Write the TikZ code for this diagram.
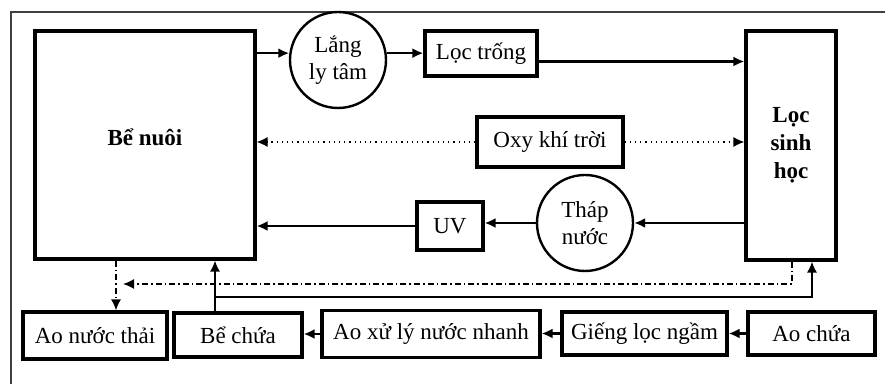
\documentclass[tikz,border=0pt]{standalone}
\usepackage{fontspec}
\setmainfont{Liberation Serif}
\usepackage{tikz}
\usetikzlibrary{positioning,calc,arrows.meta}

\begin{document}
\begin{tikzpicture}[x=0.5pt,y=-0.5pt,
  font=\fontsize{11.5}{13.5}\selectfont,
  box/.style={draw,line width=1.6pt,inner sep=0pt,align=center},
  tank/.style={draw,circle,line width=1.2pt,minimum size=48pt,inner sep=0pt,align=center},
  flow/.style={line width=1.1pt,-{Latex[length=5.5pt,width=5pt]}},
  air/.style={line width=0.6pt,dotted,-{Latex[length=5.5pt,width=5pt]}},
  drain/.style={line width=0.7pt,dash pattern=on 3pt off 1.5pt on 0.8pt off 1.5pt,-{Latex[length=5.5pt,width=5pt]}},
  back/.style={line width=0.7pt,-{Latex[length=5.5pt,width=5pt]}}]
\useasboundingbox (0,0) rectangle (885,384);
\draw[line width=0.9pt,gray!50!black] (885,12) -- (11,12) -- (11,384);
\node[box,minimum width=110pt,minimum height=114pt,text depth=8pt,font=\fontsize{11.5}{13.5}\selectfont\bfseries] (benuoi) at (145,145) {Bể nuôi};
\node[tank] (langly) at (338,60) {Lắng\\ly tâm};
\node[box,minimum width=56pt,minimum height=22.5pt] (loctrong) at (481,53.5) {Lọc trống};
\node[box,minimum width=45pt,minimum height=114.5pt,font=\fontsize{11.5}{14}\selectfont\bfseries] (locsinh) at (791,145.5) {Lọc\\sinh\\học};
\node[box,minimum width=73pt,minimum height=25pt] (oxy) at (550,142) {Oxy khí trời};
\node[tank] (thap) at (585,223) {Tháp\\nước};
\node[box,minimum width=33pt,minimum height=24pt] (uv) at (450,226) {UV};
\node[box,minimum width=72pt,minimum height=23.5pt] (aothai) at (95,335.5) {Ao nước thải};
\node[box,minimum width=64pt,minimum height=22pt] (bechua) at (238,335) {Bể chứa};
\node[box,minimum width=109pt,minimum height=23.5pt] (aoxuly) at (431,334) {Ao xử lý nước nhanh};
\node[box,minimum width=82.5pt,minimum height=21.5pt] (gieng) at (644.5,333.5) {Giếng lọc ngầm};
\node[box,minimum width=63.5pt,minimum height=21.5pt] (aochua) at (811.5,333.5) {Ao chứa};
\coordinate (ret) at (215,297);
\coordinate (rin) at (812,297);
\coordinate (dr) at (792,284);
\coordinate (dl) at (123,284);
\coordinate (dv) at (116,284);
\draw[flow] (benuoi.east |- langly.172) -- (langly.172);
\draw[flow] (langly.8) -- (langly.8 -| loctrong.west);
\draw[flow] ([yshift=-4pt]loctrong.east) -- ([yshift=-4pt]loctrong.east -| locsinh.west);
\draw[air] (oxy.west) -- (oxy.west -| benuoi.east);
\draw[air] (oxy.east) -- (oxy.east -| locsinh.west);
\draw[flow] (locsinh.west |- thap) -- (thap.east);
\draw[flow] (thap.west) -- (thap.west -| uv.east);
\draw[flow] (uv.west) -- (uv.west -| benuoi.east);
\draw[flow] (aochua.west) -- (aochua.west -| gieng.east);
\draw[flow] (gieng.west) -- (gieng.west -| aoxuly.east);
\draw[flow] (aoxuly.west) -- (aoxuly.west -| bechua.east);
\draw[back] (ret |- bechua.north) -- (ret |- benuoi.south);
\draw[back] (ret) -- (rin) -- (rin |- locsinh.south);
\draw[drain] (dr |- locsinh.south) -- (dr) -- (dl);
\draw[drain] (dv |- benuoi.south) -- (dv |- aothai.north);
\end{tikzpicture}
\end{document}
